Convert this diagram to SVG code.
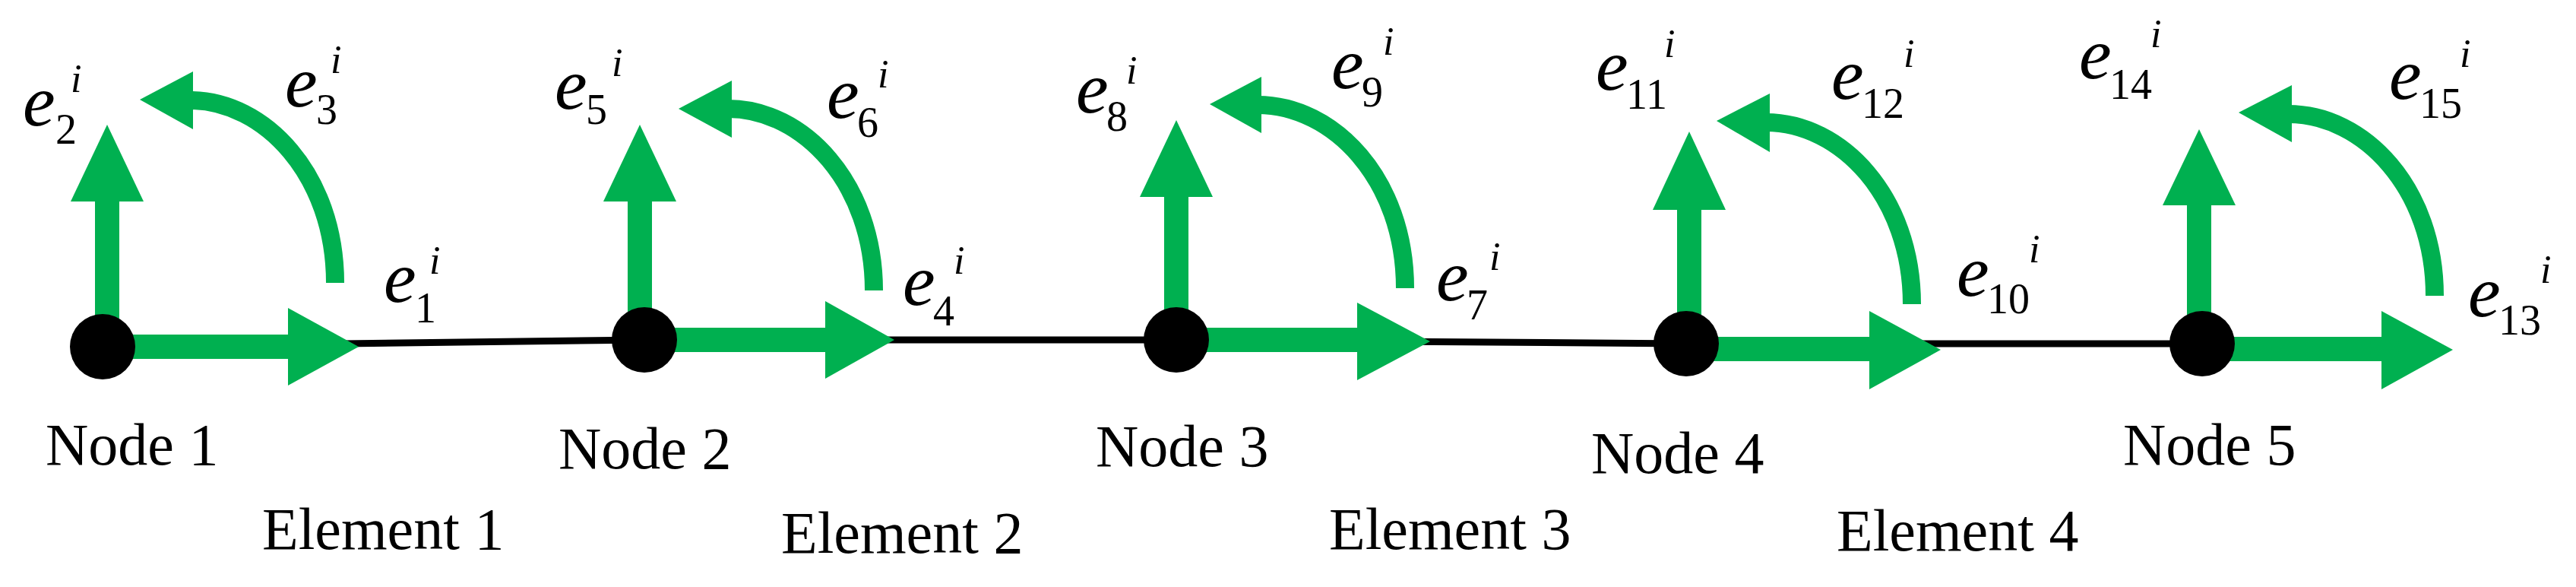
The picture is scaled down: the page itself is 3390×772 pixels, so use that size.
<svg xmlns="http://www.w3.org/2000/svg" width="3390" height="772" viewBox="0 0 3390 772">
<style>
.g{fill:#00B050}
.arc{fill:none;stroke:#00B050;stroke-width:24}
.t{font-family:"Liberation Serif",serif;font-size:78px;fill:#000}
.e{font-family:"Liberation Serif",serif;font-style:italic;font-size:96px;fill:#000}
.s{font-family:"Liberation Serif",serif;font-style:normal;font-size:56px}
.i{font-family:"Liberation Serif",serif;font-style:italic;font-size:52px}
</style>
<rect width="3390" height="772" fill="#fff"/>
<g id="connectors">
<polyline points="135,456 848,447 1548,447 2219,452 2898,452" fill="none" stroke="#000" stroke-width="9"/>
</g>
<g id="node1">
<rect class="g" x="135" y="440" width="246" height="32"/><polygon class="g" points="379,405 472,456 379,507"/>
<rect class="g" x="125" y="263" width="32" height="193"/><polygon class="g" points="93,265 141,164 189,265"/>
<path class="arc" d="M441,372 C441,230 348,132 250,132"/><polygon class="g" points="254,94 184,131 254,170"/>
<circle cx="135" cy="456" r="43"/>
<text class="t" x="60" y="611">Node 1</text>
<text class="e" x="30" y="165">e</text><text class="s" x="73" y="189">2</text><text class="i" x="93" y="121">i</text>
<text class="e" x="375" y="140">e</text><text class="s" x="416" y="163">3</text><text class="i" x="435" y="96">i</text>
<text class="e" x="505" y="397">e</text><text class="s" x="546" y="424">1</text><text class="i" x="565" y="360">i</text>
</g>
<g id="node2">
<rect class="g" x="848" y="431" width="240" height="32"/><polygon class="g" points="1086,396 1177,447 1086,498"/>
<rect class="g" x="826" y="263" width="32" height="184"/><polygon class="g" points="794,265 842,164 890,265"/>
<path class="arc" d="M1150,382 C1150,241 1057,143 958,143"/><polygon class="g" points="963,106 893,143 963,181"/>
<circle cx="848" cy="447" r="43"/>
<text class="t" x="735" y="616">Node 2</text>
<text class="e" x="730" y="143">e</text><text class="s" x="771" y="163">5</text><text class="i" x="805" y="100">i</text>
<text class="e" x="1088" y="155">e</text><text class="s" x="1128" y="180">6</text><text class="i" x="1155" y="115">i</text>
<text class="e" x="1188" y="401">e</text><text class="s" x="1228" y="428">4</text><text class="i" x="1255" y="360">i</text>
</g>
<g id="node3">
<rect class="g" x="1548" y="431" width="240" height="32"/><polygon class="g" points="1786,398 1882,449 1786,500"/>
<rect class="g" x="1532" y="257" width="32" height="190"/><polygon class="g" points="1500,259 1548,158 1596,259"/>
<path class="arc" d="M1849,379 C1849,236 1755,138 1655,138"/><polygon class="g" points="1660,101 1592,137 1660,175"/>
<circle cx="1548" cy="447" r="43"/>
<text class="t" x="1442" y="613">Node 3</text>
<text class="e" x="1416" y="148">e</text><text class="s" x="1456" y="172">8</text><text class="i" x="1482" y="110">i</text>
<text class="e" x="1752" y="116">e</text><text class="s" x="1792" y="140">9</text><text class="i" x="1820" y="72">i</text>
<text class="e" x="1890" y="395">e</text><text class="s" x="1930" y="420">7</text><text class="i" x="1960" y="355">i</text>
</g>
<g id="node4">
<rect class="g" x="2219" y="443" width="243" height="32"/><polygon class="g" points="2460,409 2554,460 2460,512"/>
<rect class="g" x="2207" y="274" width="32" height="178"/><polygon class="g" points="2175,276 2223,173 2271,276"/>
<path class="arc" d="M2516,400 C2516,259 2423,161 2324,161"/><polygon class="g" points="2329,123 2259,159 2329,200"/>
<circle cx="2219" cy="452" r="43"/>
<text class="t" x="2094" y="622">Node 4</text>
<text class="e" x="2100" y="118">e</text><text class="s" x="2140" y="143">11</text><text class="i" x="2190" y="75">i</text>
<text class="e" x="2410" y="130">e</text><text class="s" x="2450" y="155">12</text><text class="i" x="2505" y="88">i</text>
<text class="e" x="2575" y="389">e</text><text class="s" x="2615" y="412">10</text><text class="i" x="2670" y="345">i</text>
</g>
<g id="node5">
<rect class="g" x="2898" y="443" width="238" height="32"/><polygon class="g" points="3134,409 3228,460 3134,512"/>
<rect class="g" x="2878" y="268" width="32" height="184"/><polygon class="g" points="2846,270 2894,170 2942,270"/>
<path class="arc" d="M3204,389 C3204,248 3111,150 3011,150"/><polygon class="g" points="3016,112 2946,148 3016,187"/>
<circle cx="2898" cy="452" r="43"/>
<text class="t" x="2794" y="611">Node 5</text>
<text class="e" x="2736" y="103">e</text><text class="s" x="2776" y="130">14</text><text class="i" x="2830" y="62">i</text>
<text class="e" x="3144" y="130">e</text><text class="s" x="3184" y="155">15</text><text class="i" x="3237" y="88">i</text>
<text class="e" x="3248" y="416">e</text><text class="s" x="3288" y="440">13</text><text class="i" x="3343" y="372">i</text>
</g>
<g id="elements">
<text class="t" x="345" y="722">Element 1</text>
<text class="t" x="1028" y="727">Element 2</text>
<text class="t" x="1749" y="722">Element 3</text>
<text class="t" x="2417" y="724">Element 4</text>
</g>
</svg>
